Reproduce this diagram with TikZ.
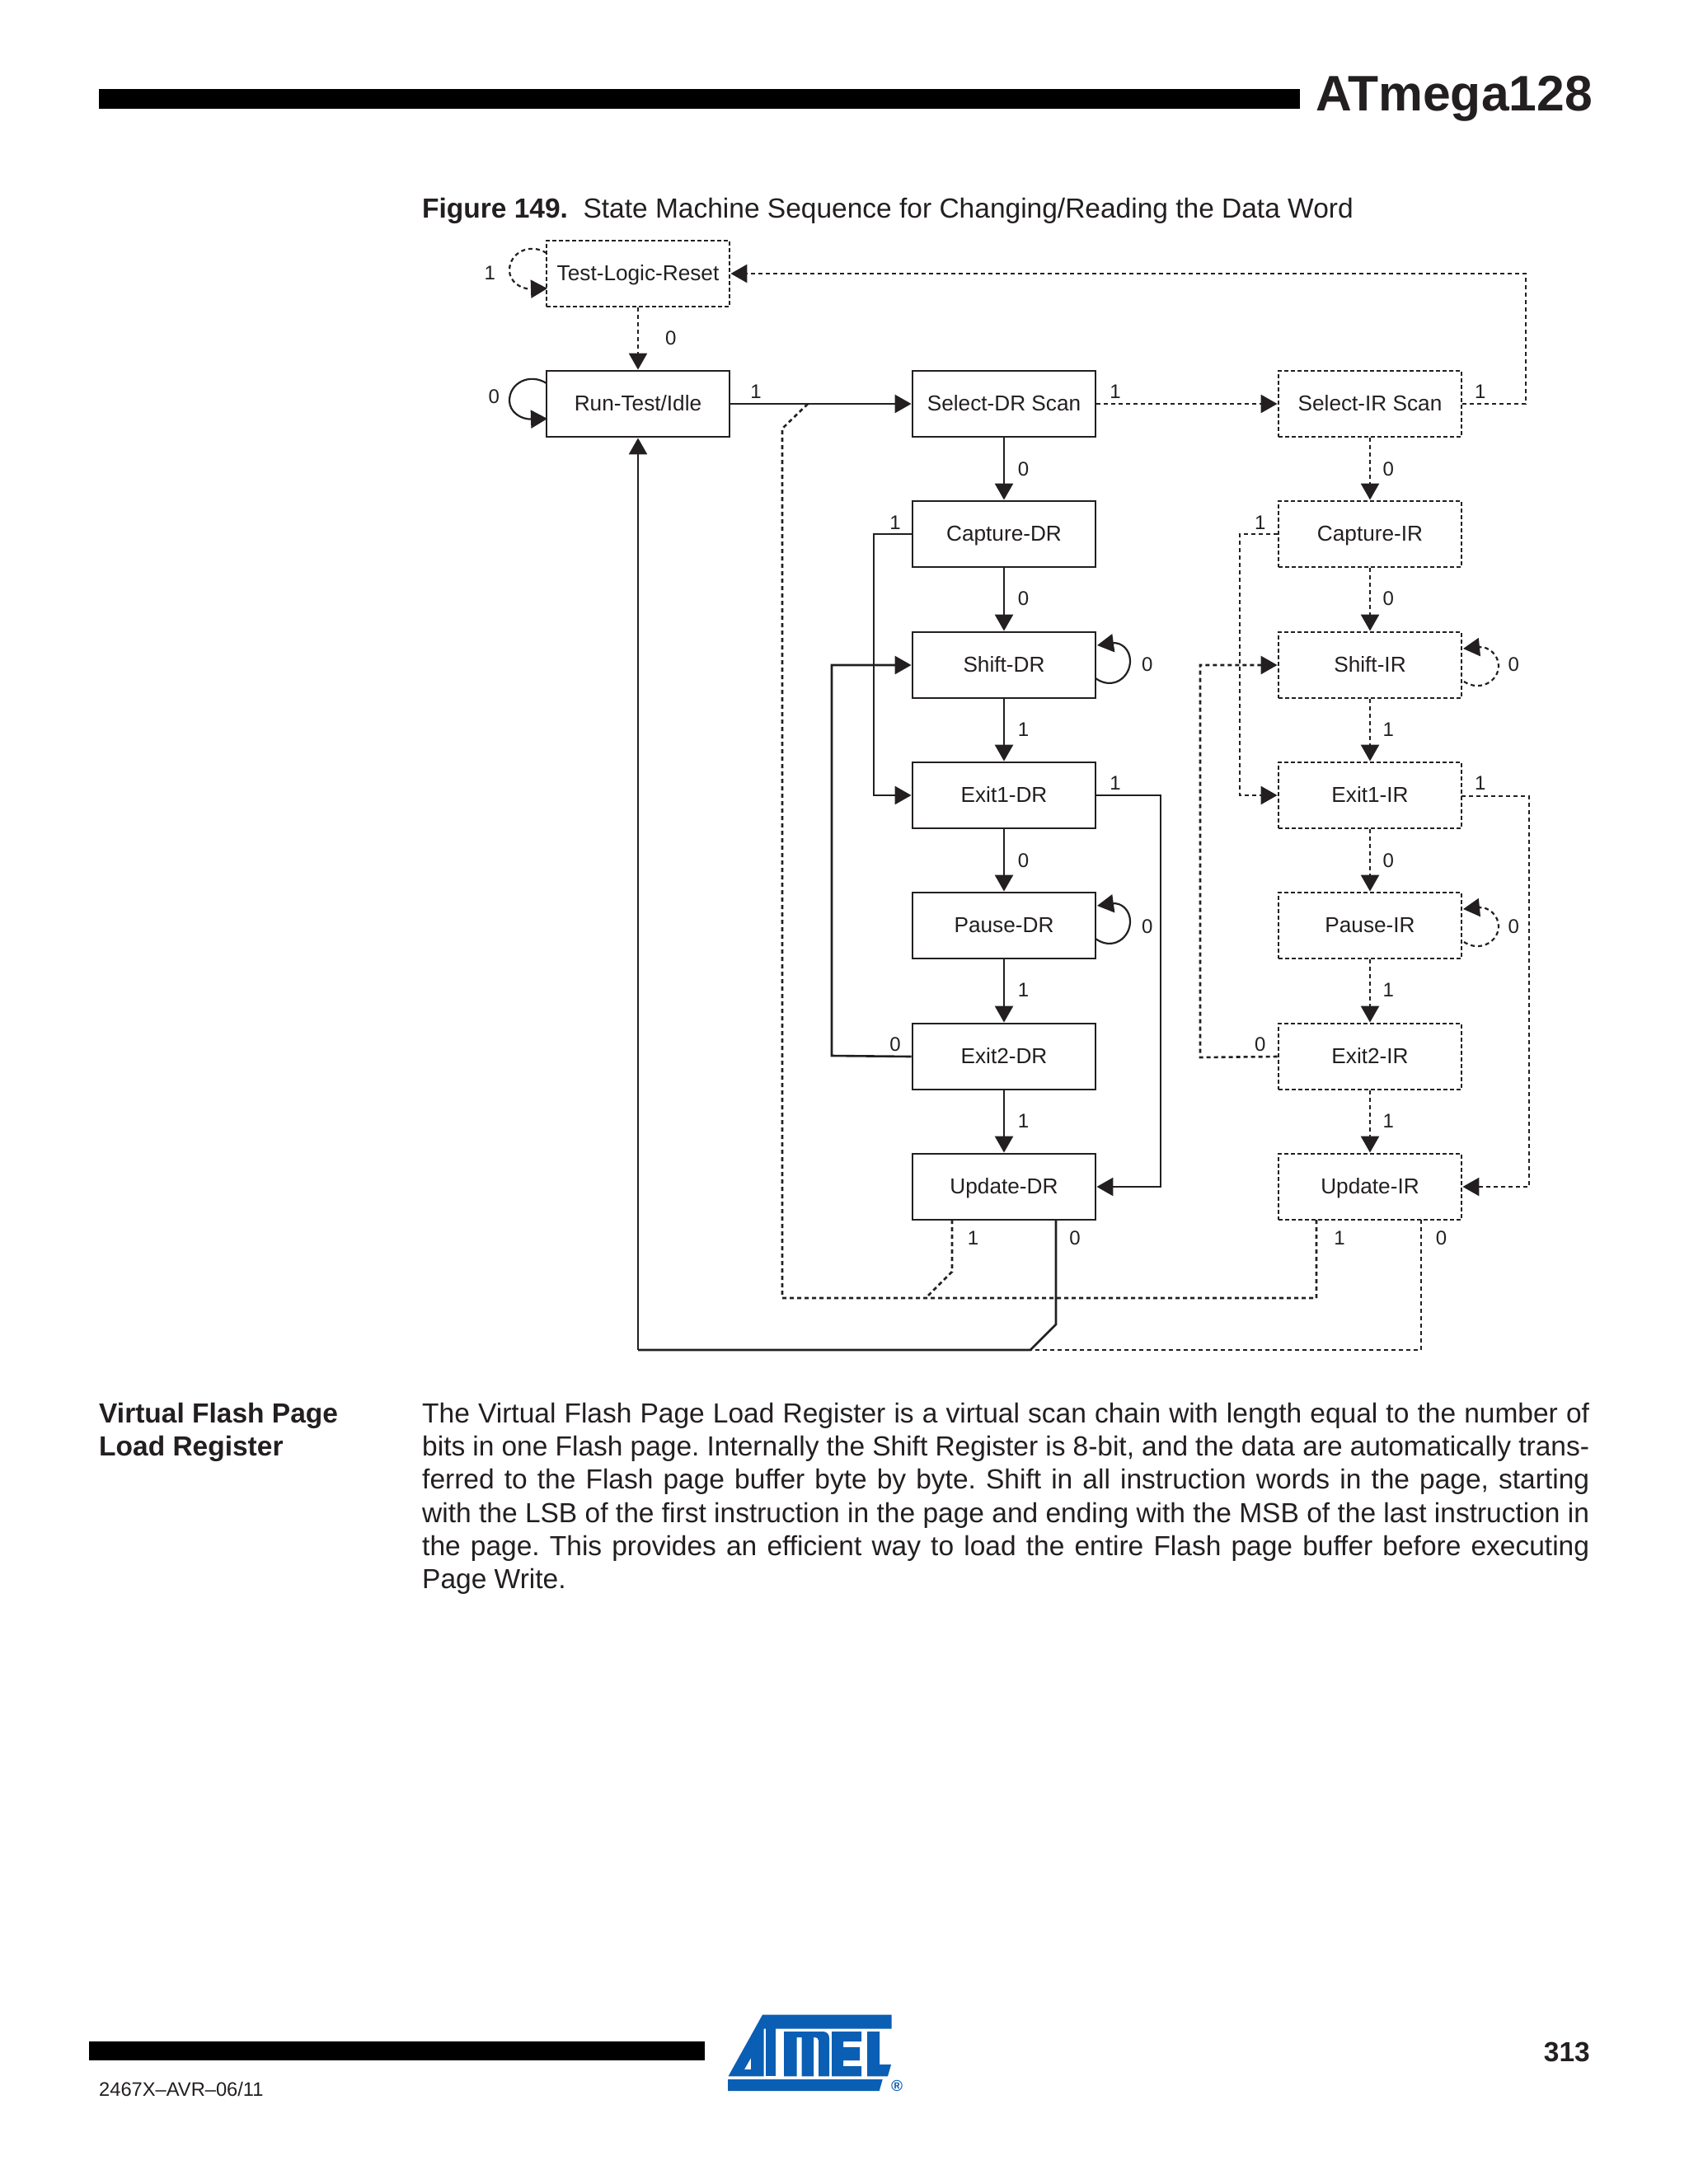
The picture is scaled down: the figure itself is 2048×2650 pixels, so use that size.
\documentclass[tikz,border=0pt]{standalone}
\usepackage{fontspec}
\setmainfont{Liberation Sans}
\usetikzlibrary{arrows.meta}
\definecolor{ink}{HTML}{231F20}
\definecolor{atmelblue}{HTML}{0A5FB4}
\newcommand{\fsz}[2]{\fontsize{#1pt}{#2pt}\selectfont}
\tikzset{
 x=1pt,y=-1pt,
 solidbox/.style={draw=ink,line width=2.9pt,minimum width=222pt,minimum height=80pt,inner sep=0pt,text=ink,text height=18.6pt,text depth=2pt,font=\fsz{26.2}{30}},
 dashbox/.style={solidbox,dash pattern=on 5pt off 3pt},
 lab/.style={inner sep=0pt,text=ink,font=\fsz{24}{28}},
 txt/.style={inner sep=0pt,anchor=base west,text=ink},
 sline/.style={draw=ink,line width=2.6pt},
 dline/.style={draw=ink,line width=2.6pt,dash pattern=on 5pt off 4pt},
 loopline/.style={line width=2.2pt},
 arr/.style={-{Triangle[length=20pt,width=22pt,fill=ink,sep=0pt]}},
}
\begin{document}
\begin{tikzpicture}
\useasboundingbox (0,0) rectangle (2048,2650);
\fill[white] (0,0) rectangle (2048,2650);
% page furniture
\fill[black] (120,108) rectangle (1577,132);
\node[txt,anchor=base east,font=\fsz{60.6}{70}\bfseries] (title) at (1932,134) {ATmega128};
\node[txt,font=\fsz{33.5}{40}] (cap) at (512,264) {\textbf{Figure 149.}\hspace{18.5pt}State Machine Sequence for Changing/Reading the Data Word};
\node[txt,anchor=north west,align=left,font=\fsz{33.5}{40.2}\bfseries] (side) at (120,1702) {Virtual Flash Page\\Load Register};
\node[inner sep=0pt,anchor=north west,text=ink,text width=1416pt,align=justify,font=\fsz{33.5}{40.2}] (body) at (512,1702) {\frenchspacing\tolerance=9999 The Virtual Flash Page Load Register is a virtual scan chain with length equal to the number of\linebreak bits in one Flash page. Internally the Shift Register is 8-bit, and the data are automatically trans-\linebreak ferred to the Flash page buffer byte by byte. Shift in all instruction words in the page, starting\linebreak with the LSB of the first instruction in the page and ending with the MSB of the last instruction in\linebreak the page. This provides an efficient way to load the entire Flash page buffer before executing\linebreak Page Write.};
\fill[black] (108,2477) rectangle (855,2500);
\node[txt,font=\fsz{23.7}{28}] (docno) at (120,2543) {2467X–AVR–06/11};
\node[txt,anchor=base east,font=\fsz{33.5}{40}\bfseries] (pageno) at (1929,2501) {313};
% nodes
\node[dashbox] (tlr) at (774,332) {Test-Logic-Reset};
\node[solidbox] (run) at (774,490) {Run-Test/Idle};
\node[solidbox] (sdr) at (1218,490) {Select-DR Scan};
\node[solidbox] (cdr) at (1218,648) {Capture-DR};
\node[solidbox] (shdr) at (1218,807) {Shift-DR};
\node[solidbox] (e1dr) at (1218,965) {Exit1-DR};
\node[solidbox] (pdr) at (1218,1123) {Pause-DR};
\node[solidbox] (e2dr) at (1218,1282) {Exit2-DR};
\node[solidbox] (udr) at (1218,1440) {Update-DR};
\node[dashbox] (sir) at (1662,490) {Select-IR Scan};
\node[dashbox] (cir) at (1662,648) {Capture-IR};
\node[dashbox] (shir) at (1662,807) {Shift-IR};
\node[dashbox] (e1ir) at (1662,965) {Exit1-IR};
\node[dashbox] (pir) at (1662,1123) {Pause-IR};
\node[dashbox] (e2ir) at (1662,1282) {Exit2-IR};
\node[dashbox] (uir) at (1662,1440) {Update-IR};
% bend points
\coordinate (a1) at (1851,490); \coordinate (a2) at (1851,332);
\coordinate (b1) at (1060,648); \coordinate (b2) at (1060,965);
\coordinate (c1) at (1009,1281); \coordinate (c2) at (1009,807);
\coordinate (d1) at (1408,965); \coordinate (d2) at (1408,1440);
\coordinate (e1) at (1504,648); \coordinate (e2) at (1504,965);
\coordinate (f1) at (1456,1283); \coordinate (f2) at (1456,807);
\coordinate (g0) at (1773,966); \coordinate (g1) at (1855,966); \coordinate (g2) at (1855,1440);
\coordinate (h0) at (1597,1480); \coordinate (h1) at (1597,1575); \coordinate (h2) at (949,1575); \coordinate (h3) at (949,520); \coordinate (h4) at (980,490);
\coordinate (i0) at (1155,1480); \coordinate (i1) at (1155,1543); \coordinate (i2) at (1123,1575);
\coordinate (j0) at (1281,1480); \coordinate (j1) at (1281,1607); \coordinate (j2) at (1250,1638); \coordinate (j3) at (774,1638);
\coordinate (k0) at (1724,1480); \coordinate (k1) at (1724,1638);
% straight solid
\draw[sline,arr] (run) -- (sdr);
\draw[sline,arr] (sdr) -- (cdr);
\draw[sline,arr] (cdr) -- (shdr);
\draw[sline,arr] (shdr) -- (e1dr);
\draw[sline,arr] (e1dr) -- (pdr);
\draw[sline,arr] (pdr) -- (e2dr);
\draw[sline,arr] (e2dr) -- (udr);
% straight dashed
\draw[dline,arr] (tlr) -- (run);
\draw[dline,arr] (sdr) -- (sir);
\foreach \p/\q in {sir/cir,cir/shir,shir/e1ir,e1ir/pir,pir/e2ir,e2ir/uir}{
 \draw[dline,arr] (\p) -- (\q);
}
% solid routes
\draw[sline,arr] (cdr.west) -- (b1) -- (b2) -- (e1dr.west);
\draw[sline,arr] (e2dr.west) -- (c1) -- (c2) -- (shdr.west);
\draw[sline,arr] (e1dr.east) -- (d1) -- (d2) -- (udr.east);
\draw[sline] (j0) -- (j1) -- (j2) -- (j3);
\draw[sline,arr] (j3) -- (run.south);
% dashed routes
\draw[dline,arr] (sir.east) -- (a1) -- (a2) -- (tlr.east);
\draw[dline,arr] (cir.west) -- (e1) -- (e2) -- (e1ir.west);
\draw[dline,arr] (e2ir.west) -- (f1) -- (f2) -- (shir.west);
\draw[dline,arr] (g0) -- (g1) -- (g2) -- (uir.east);
\draw[dline] (h0) -- (h1) -- (h2) -- (h3) -- (h4);
\draw[dline] (i0) -- (i1) -- (i2);
\draw[dline] (k0) -- (k1) -- (j2);
% self loops
\draw[sline,loopline,arr] (663,465) .. controls (642,452) and (618,465) .. (618,486) .. controls (618,500) and (632,509) .. (664,508);
\draw[dline,loopline,arr] (663,307) .. controls (642,294) and (618,307) .. (618,328) .. controls (618,342) and (632,351) .. (664,350);
\draw[sline,loopline,arr] (1329,823) .. controls (1350,838) and (1371,822) .. (1371,802) .. controls (1371,788) and (1360,779) .. (1331,783);
\draw[sline,loopline,arr] (1329,1139) .. controls (1350,1154) and (1371,1138) .. (1371,1118) .. controls (1371,1104) and (1360,1095) .. (1331,1099);
\draw[dline,loopline,arr] (1776,827) .. controls (1796,840) and (1818,826) .. (1818,808) .. controls (1818,795) and (1806,784) .. (1775,787);
\draw[dline,loopline,arr] (1776,1143) .. controls (1796,1156) and (1818,1142) .. (1818,1124) .. controls (1818,1111) and (1806,1100) .. (1775,1103);
% labels
\foreach \n/\x/\y/\t in {l1/351/196/1,l2/481/243/0,l3/354/285/0,l4/542/281/1,l5/800/281/1,l6/1062/281/1,
 l7/734/337/0,l8/996/337/0,l9/642/375/1,l10/904/375/1,l11/734/430/0,l12/996/430/0,l13/823/477/0,l14/1086/477/0,
 l15/734/524/1,l16/996/524/1,l17/800/562/1,l18/1062/562/1,l19/734/618/0,l20/996/618/0,l21/823/665/0,l22/1086/665/0,
 l23/734/711/1,l24/996/711/1,l25/642/750/0,l26/904/750/0,l27/734/805/1,l28/996/805/1,l29/698/889/1,l30/771/889/0,l31/961/889/1,l32/1034/889/0}{
 \node[lab] (\n) at ({\x*1.69+1},{\y*1.69}) {\t};
}
% logo
\fill[atmelblue] (883,2523) -- (1070.7,2523) -- (1066.7,2537) -- (883,2537) -- cycle;
\fill[atmelblue,even odd rule] (925,2444.7) -- (1081.7,2444.7) -- (1081.7,2461.7) -- (926.5,2461.7) -- (926.5,2519.3) -- (883.5,2519.3) -- cycle
  (911,2497) -- (903,2511) -- (911,2511) -- cycle;
\fill[atmelblue] (929,2461) rectangle (941,2519.3);
\fill[atmelblue] (951,2465) -- (998,2465) .. controls (1003,2465) and (1006,2468) .. (1006,2473) -- (1006,2519.3) -- (993,2519.3) -- (993,2476) .. controls (993,2473) and (991,2472) .. (988,2472) -- (987,2472) -- (987,2519.3) -- (972.7,2519.3) -- (972.7,2472) -- (966.7,2472) -- (966.7,2519.3) -- (951,2519.3) -- cycle;
\fill[atmelblue] (1009,2465) -- (1045,2465) -- (1045,2477) -- (1023,2477) -- (1023,2484) -- (1043,2484) -- (1043,2500) -- (1023,2500) -- (1023,2507) -- (1045,2507) -- (1045,2519.3) -- (1009,2519.3) -- cycle;
\fill[atmelblue] (1052,2465) -- (1067,2465) -- (1067,2505) -- (1081,2505) -- (1077,2519.3) -- (1052,2519.3) -- cycle;
\node[inner sep=0pt,text=atmelblue,font=\fsz{19}{20}\bfseries] (reg) at (1088,2531) {®};
\end{tikzpicture}
\end{document}
